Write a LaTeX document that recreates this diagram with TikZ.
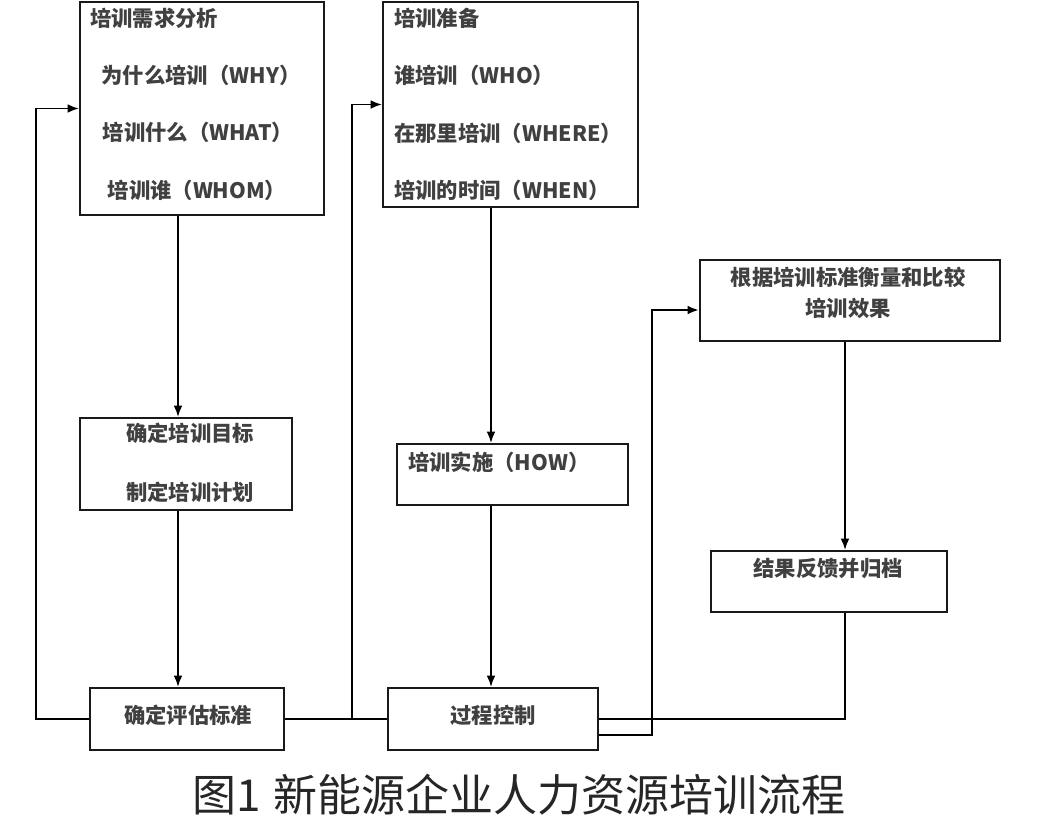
\documentclass[tikz,border=0pt]{standalone}
\usepackage{fontspec}
\setmainfont{Noto Sans CJK SC}
\usetikzlibrary{positioning}
\usetikzlibrary{calc}
\usetikzlibrary{arrows.meta}

\begin{document}
\begin{tikzpicture}[x=0.75pt, y=-0.75pt, >={Latex[length=8.5pt,width=6.5pt]},
                stagebox/.style={rectangle, draw=black!90, line width=1.4pt, inner sep=0pt},
                boxtext/.style={font=\fontsize{16}{19}\selectfont\bfseries, text=black!75, inner sep=0pt},
                link/.style={line width=1.4pt},
                ]
                \useasboundingbox (0,0) rectangle (1045,828);

                % boxes
                \node[stagebox, minimum width=183pt, minimum height=159.75pt] (need) at (202,108.5) {};
                \node[stagebox, minimum width=191.25pt, minimum height=153.75pt] (prep) at (510.5,104.5) {};
                \node[stagebox, minimum width=159pt, minimum height=69pt] (goal) at (186,464) {};
                \node[stagebox, minimum width=145.5pt, minimum height=46.5pt] (crit) at (187,719) {};
                \node[stagebox, minimum width=173.25pt, minimum height=45.75pt] (impl) at (512.5,474.5) {};
                \node[stagebox, minimum width=157.5pt, minimum height=46.5pt] (ctrl) at (493,719) {};
                \node[stagebox, minimum width=225pt, minimum height=60.75pt] (eval) at (850,300.5) {};
                \node[stagebox, minimum width=177pt, minimum height=45.75pt] (fb) at (829,581.5) {};

                % texts
                \node[boxtext, anchor=west] (needT) at (90,18) {培训需求分析};
                \node[boxtext] (need1) at (201,75) {为什么培训（WHY）};
                \node[boxtext] (need2) at (198,132) {培训什么（WHAT）};
                \node[boxtext] (need3) at (197,190) {培训谁（WHOM）};

                \node[boxtext, anchor=west] (prepT) at (394,18) {培训准备};
                \node[boxtext, anchor=west] (prep1) at (394,75) {谁培训（WHO）};
                \node[boxtext, anchor=west] (prep2) at (394,133) {在那里培训（WHERE）};
                \node[boxtext, anchor=west] (prep3) at (394,190) {培训的时间（WHEN）};

                \node[boxtext] (goal1) at (190,433) {确定培训目标};
                \node[boxtext] (goal2) at (190,492) {制定培训计划};
                \node[boxtext] (critT) at (188,715) {确定评估标准};
                \node[boxtext, anchor=west] (implT) at (408,462) {培训实施（HOW）};
                \node[boxtext] (ctrlT) at (493,715) {过程控制};
                \node[boxtext] (eval1) at (848,277) {根据培训标准衡量和比较};
                \node[boxtext] (eval2) at (848,308) {培训效果};
                \node[boxtext] (fbT) at (828,568) {结果反馈并归档};

                \node[font=\fontsize{33}{38}\selectfont, text=black!85] (caption) at (519,795) {图1\hspace{9pt}新能源企业人力资源培训流程};

                % connector columns
                \coordinate (colA) at (178,0);
                \coordinate (colB) at (491,0);
                \coordinate (colC) at (845,0);
                \coordinate (loopA) at (36,0);
                \coordinate (loopB) at (352,0);
                \coordinate (bendE) at (652,735);
                \coordinate (bendF) at (652,310);

                \draw[->, link] (need.south -| colA) -- (goal.north -| colA);
                \draw[->, link] (goal.south -| colA) -- (crit.north -| colA);
                \draw[->, link] (prep.south -| colB) -- (impl.north -| colB);
                \draw[->, link] (impl.south -| colB) -- (ctrl.north -| colB);
                \draw[->, link] (eval.south -| colC) -- (fb.north -| colC);

                \draw[->, link] (crit.west) -| (loopA |- need.west) -- (need.west);
                \draw[link] (crit.east) -- (ctrl.west);
                \draw[->, link] (crit.east -| loopB) |- (prep.west);
                \draw[link] (ctrl.east) -| (fb.south -| colC);
                \draw[->, line width=2pt] (ctrl.east |- bendE) -| (bendF) -- (eval.west |- bendF);
            \end{tikzpicture}
\end{document}
